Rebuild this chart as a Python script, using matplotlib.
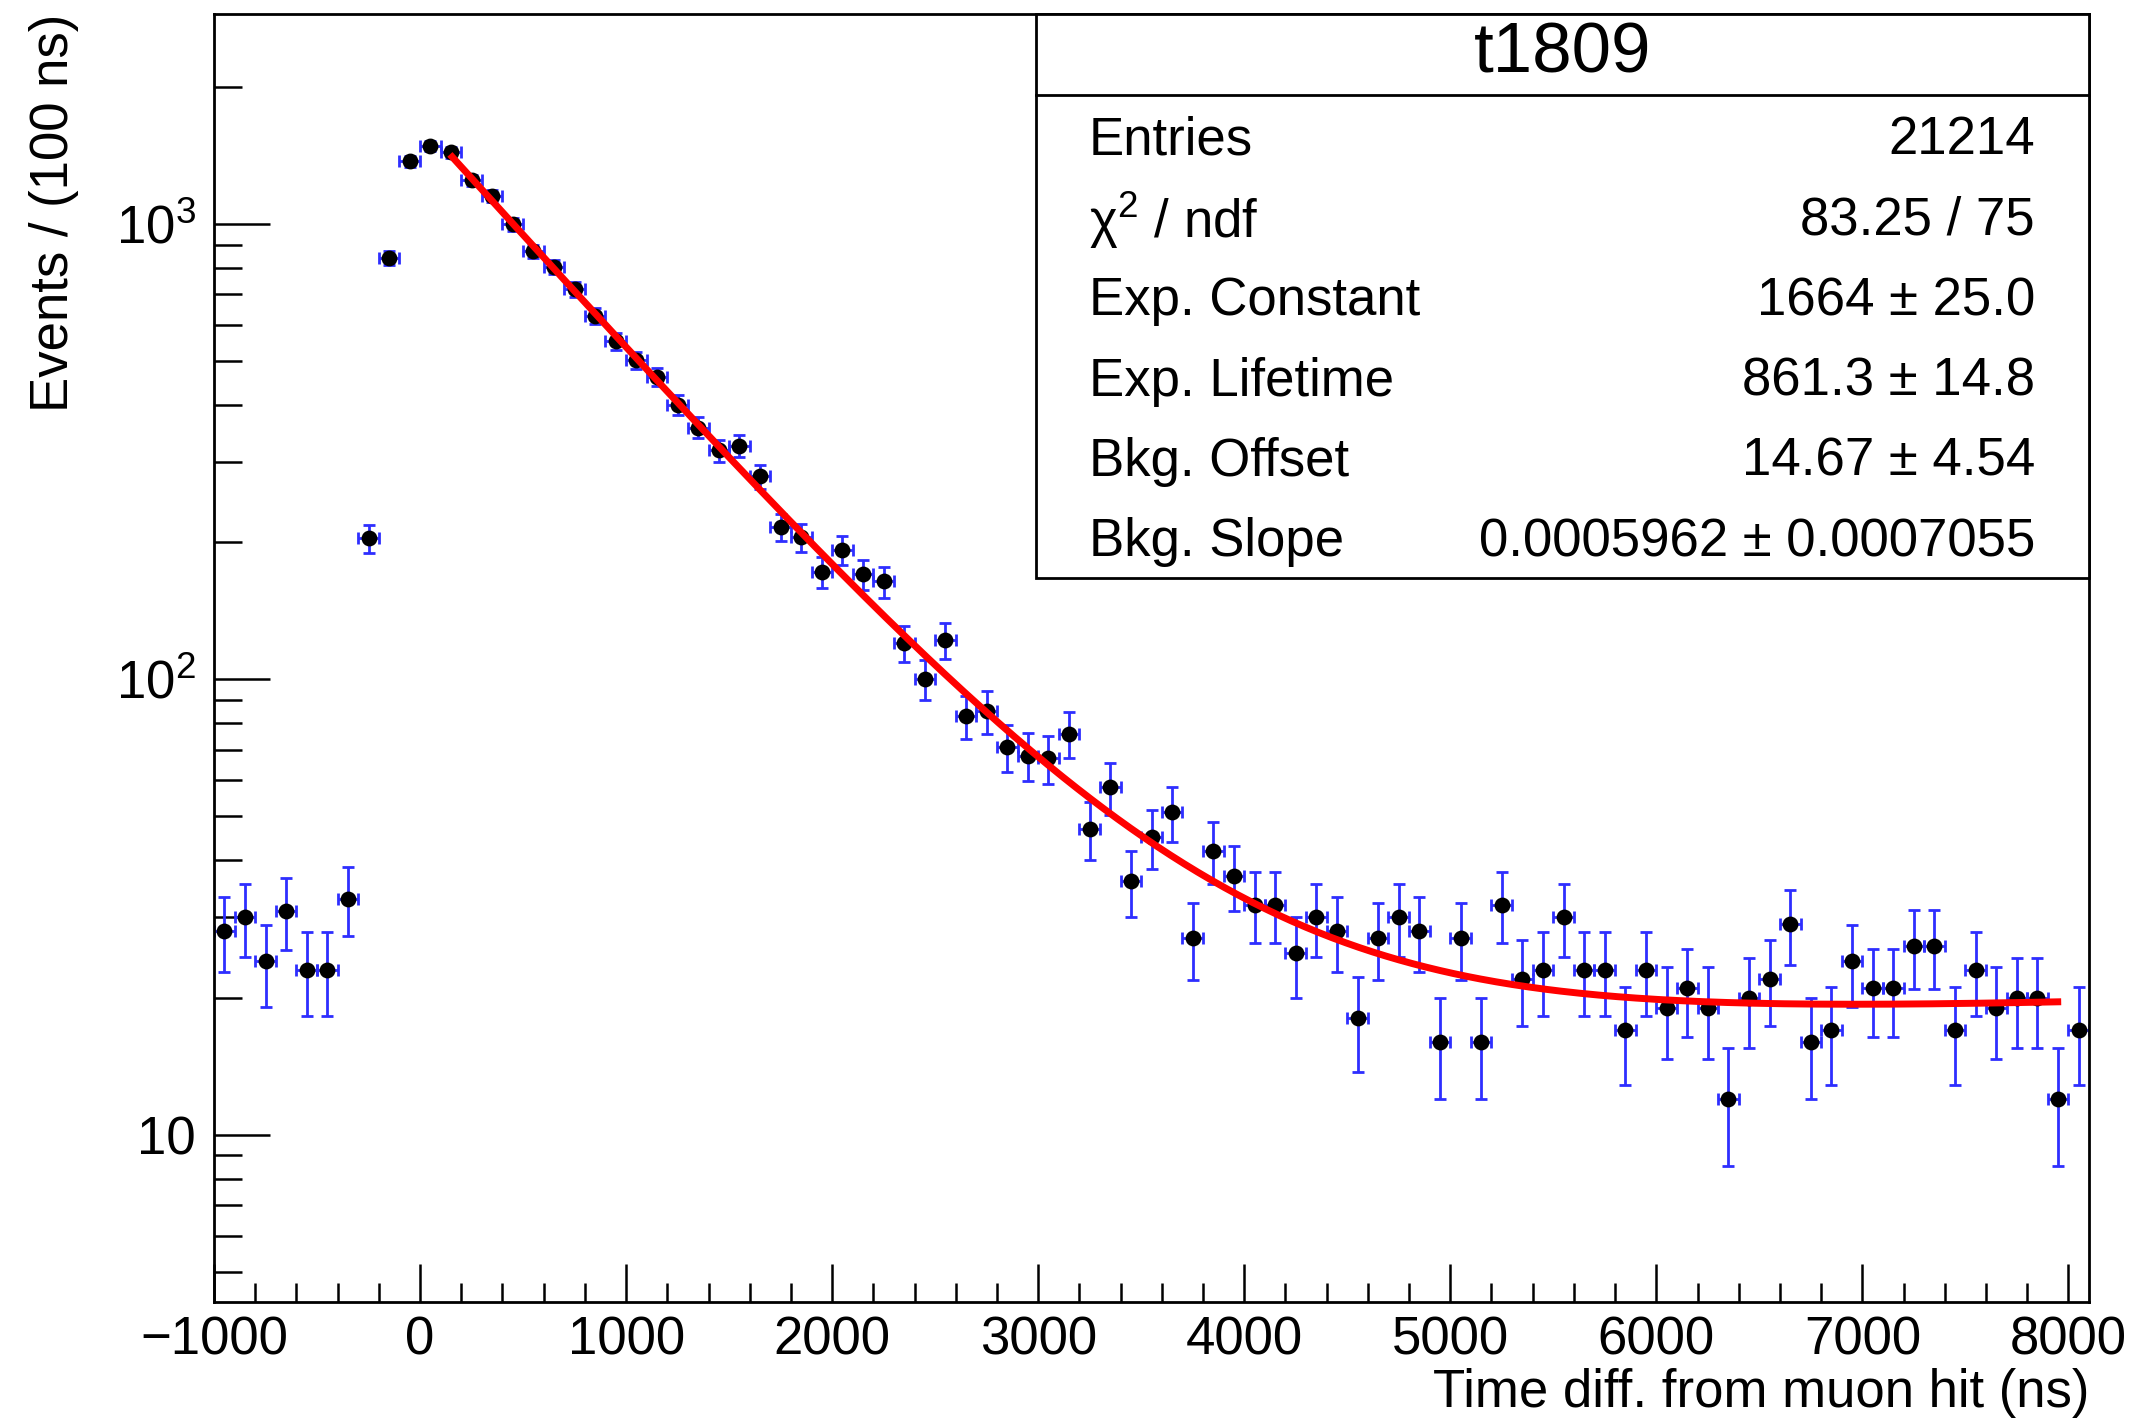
import numpy as np
import matplotlib
matplotlib.use("Agg")
import matplotlib.pyplot as plt
from matplotlib.ticker import FixedLocator, NullFormatter, MultipleLocator, LogLocator
from matplotlib.patches import Rectangle
from matplotlib.lines import Line2D

plt.rcParams['font.family'] = ['Liberation Sans', 'DejaVu Sans']
plt.rcParams['mathtext.fontset'] = 'custom'
plt.rcParams['mathtext.rm'] = 'Liberation Sans'
plt.rcParams['mathtext.it'] = 'Liberation Sans:italic'
plt.rcParams['mathtext.bf'] = 'Liberation Sans:bold'

# ---------------- data ----------------
bin_width = 100
x_start = -1000
counts = [28, 30, 24, 31, 23, 23, 33, 204, 842, 1372,
          1485, 1436, 1248, 1150, 998, 870, 803, 719, 628, 552,
          502, 461, 400, 357, 318, 326, 279, 216, 205, 172,
          192, 170, 164, 120, 100, 122, 83, 85, 71, 68,
          67, 76, 47, 58, 36, 45, 51, 27, 42, 37,
          32, 32, 25, 30, 28, 18, 27, 30, 28, 16,
          27, 16, 32, 22, 23, 30, 23, 23, 17, 23,
          19, 21, 19, 12, 20, 22, 29, 16, 17, 24,
          21, 21, 26, 26, 17, 23, 19, 20, 20, 12,
          17]
bin_centers = x_start + bin_width / 2 + bin_width * np.arange(len(counts))

# fit results (from stats box)
fit_const = 1664.0
fit_tau = 861.3
fit_offset = 14.67
fit_slope = 0.0005962
fit_range = (145, 7965)

stats_title = "t1809"
stats_labels = ["Entries", "\u03c7$^{2}$ / ndf", "Exp. Constant", "Exp. Lifetime",
                "Bkg. Offset", "Bkg. Slope"]
stats_values = ["21214", "83.25 / 75", "1664 \u00b1 25.0", "861.3 \u00b1 14.8",
                "14.67 \u00b1 4.54", "0.0005962 \u00b1 0.0007055"]

xticks = [-1000, 0, 1000, 2000, 3000, 4000, 5000, 6000, 7000, 8000]
yticks = [10, 100, 1000]
ytick_labels = ["10", r"$10^{2}$", r"$10^{3}$"]

# ---------------- figure ----------------
W, H = 2131, 1418
dpi = 200
fig = plt.figure(figsize=(W / dpi, H / dpi), dpi=dpi)
ax_l, ax_r, ax_t, ax_b = 214, 2089, 14, 1302
ax = fig.add_axes([ax_l / W, (H - ax_b) / H, (ax_r - ax_l) / W, (ax_b - ax_t) / H])

counts_arr = np.array(counts, dtype=float)
yerr = np.sqrt(counts_arr)
ax.errorbar(bin_centers, counts_arr, xerr=bin_width / 2, yerr=yerr,
            fmt='none', ecolor='#2e2eff', elinewidth=1.0, capsize=2.0,
            capthick=1.0, zorder=2)
ax.plot(bin_centers, counts_arr, 'o', color='black', markersize=4.7, zorder=3)

xf = np.linspace(fit_range[0], fit_range[1], 600)
yf = fit_const * np.exp(-xf / fit_tau) + fit_offset + fit_slope * xf
ax.plot(xf, yf, color='#ff0000', lw=2.5, zorder=4, solid_capstyle='butt')

ax.set_yscale('log')
ax.set_xlim(-1000, 8100)
ax.set_ylim(4.29, 2890)

ax.xaxis.set_major_locator(FixedLocator(xticks))
ax.xaxis.set_minor_locator(MultipleLocator(200))
ax.set_xticklabels([f"{t:d}".replace('-', '\u2212') for t in xticks])

ax.yaxis.set_major_locator(FixedLocator(yticks))
ax.set_yticklabels(ytick_labels)
ax.yaxis.set_minor_locator(LogLocator(base=10, subs=np.arange(2, 10)))
ax.yaxis.set_minor_formatter(NullFormatter())

fs = 19.0
ax.tick_params(axis='x', which='major', direction='in', length=13.7, width=0.9,
               labelsize=fs, pad=5, top=False)
ax.tick_params(axis='x', which='minor', direction='in', length=6.8, width=0.9, top=False)
ax.tick_params(axis='y', which='major', direction='in', length=20.2, width=0.9,
               labelsize=fs, pad=6.5, right=False)
ax.tick_params(axis='y', which='minor', direction='in', length=10.1, width=0.9, right=False)
for s in ax.spines.values():
    s.set_linewidth(1.0)

ax.set_xlabel("Time diff. from muon hit (ns)", fontsize=fs, loc='right')
ax.xaxis.label.set_va('baseline')
ax.xaxis.set_label_coords(1.0, (ax_b - 1407) / (ax_b - ax_t))
ax.set_ylabel("Events / (100 ns)", fontsize=fs, loc='top')
ax.yaxis.label.set_va('baseline')
ax.yaxis.set_label_coords((68 - ax_l) / (ax_r - ax_l), 1.0)

# ---------------- stats box ----------------
bx_l, bx_r, bx_t, bx_b, bx_sep = 1035.6, 2089, 14, 577.6, 95
def fx(px):
    return px / W
def fy(py):
    return (H - py) / H
fig.patches.append(Rectangle((fx(bx_l), fy(bx_b)), fx(bx_r) - fx(bx_l), fy(bx_t) - fy(bx_b),
                             transform=fig.transFigure, facecolor='white',
                             edgecolor='black', lw=1.0, zorder=5))
fig.lines.append(Line2D([fx(bx_l), fx(bx_r)], [fy(bx_sep), fy(bx_sep)],
                        transform=fig.transFigure, color='black', lw=1.0, zorder=6))
fig.text(fx((bx_l + bx_r) / 2), fy((bx_t + bx_sep) / 2), stats_title, fontsize=25.5,
         ha='center', va='center', zorder=7)
row_h = (bx_b - bx_sep) / len(stats_labels)
for i, (lab, val) in enumerate(zip(stats_labels, stats_values)):
    yc = bx_sep + row_h * (i + 0.5) + 5
    fig.text(fx(1089), fy(yc), lab, fontsize=fs, ha='left', va='center', zorder=7)
    fig.text(fx(2035), fy(yc), val, fontsize=fs, ha='right', va='center', zorder=7)

fig.savefig("out.png", dpi=dpi)
